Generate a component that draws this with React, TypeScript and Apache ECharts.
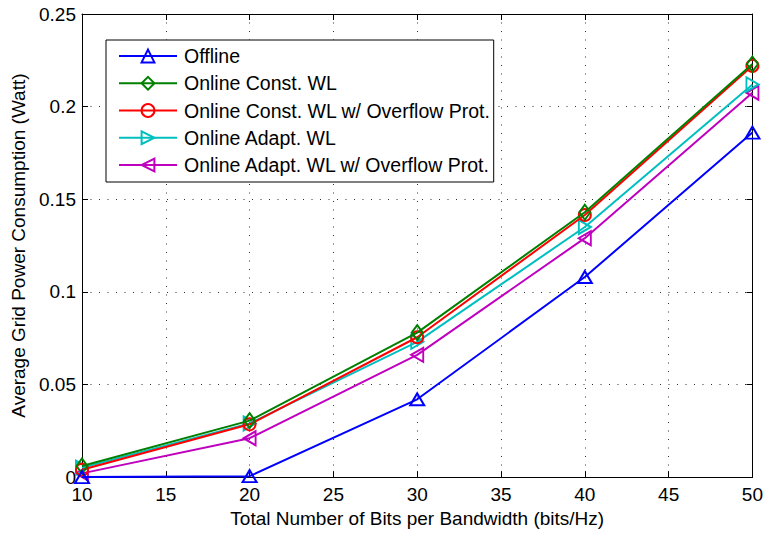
import React, { useEffect, useRef } from "react";
import * as echarts from "echarts";

const bitsPerBandwidth = [10, 20, 30, 40, 50];
const offline = [0, 0.0005, 0.042, 0.108, 0.186];
const onlineConstWL = [0.006, 0.0305, 0.078, 0.143, 0.223];
const onlineConstWLOverflow = [0.004, 0.0285, 0.0755, 0.1415, 0.222];
const onlineAdaptWL = [0.005, 0.029, 0.073, 0.135, 0.212];
const onlineAdaptWLOverflow = [0.002, 0.021, 0.066, 0.129, 0.2075];

const seriesNames = [
  "Offline",
  "Online Const. WL",
  "Online Const. WL w/ Overflow Prot.",
  "Online Adapt. WL",
  "Online Adapt. WL w/ Overflow Prot.",
];

const FONT = "Liberation Sans, Arial, Helvetica, sans-serif";

export default function App() {
  const ref = useRef<HTMLDivElement>(null);

  useEffect(() => {
    if (!ref.current) return;
    const chart = echarts.init(ref.current, undefined, { renderer: "svg" });

    const values = [offline, onlineConstWL, onlineConstWLOverflow, onlineAdaptWL, onlineAdaptWLOverflow];
    const colors = ["#0000ff", "#008000", "#ff0000", "#00bfbf", "#bf00bf"];
    const symbols = [
      "path://M5,0L10,9L0,9Z",
      "path://M5,0L10,8L5,16L0,8Z",
      "circle",
      "path://M0,0L9,5L0,10Z",
      "path://M9,0L0,5L9,10Z",
    ];
    const sizes: any[] = [[14, 12], [11, 15], 12, [12, 14], [12, 14]];

    const series = values.map((vals, i) => ({
      name: seriesNames[i],
      type: "line",
      data: bitsPerBandwidth.map((x, j) => [x, vals[j]]),
      symbol: symbols[i],
      symbolSize: sizes[i],
      showAllSymbol: true,
      lineStyle: { color: colors[i], width: 2 },
      itemStyle: { color: "transparent", borderColor: colors[i], borderWidth: 2 },
      z: 10 - i,
    }));

    const gridLine = { show: true, lineStyle: { color: "#333", type: [1, 7.5], width: 1 } };
    const FS = 19;

    chart.setOption({
      animation: false,
      textStyle: { fontFamily: FONT },
      grid: { left: 82, top: 14, right: 13, bottom: 54, containLabel: false },
      legend: {
        orient: "vertical",
        left: 106,
        top: 40,
        padding: [6, 3, 7, 12],
        itemGap: 7.25,
        itemWidth: 58,
        itemHeight: 16,
        backgroundColor: "#fff",
        borderColor: "#000",
        borderWidth: 1,
        textStyle: { fontSize: 19.5, color: "#000", fontFamily: FONT, lineHeight: 20, padding: [0, 0, 0, 2] },
        data: seriesNames,
      },
      xAxis: [
        {
          type: "value",
          min: 10,
          max: 50,
          interval: 5,
          name: "Total Number of Bits per Bandwidth (bits/Hz)",
          nameLocation: "middle",
          nameGap: 31,
          nameTextStyle: { fontSize: FS, color: "#000", fontFamily: FONT },
          axisLine: { show: true, onZero: false, lineStyle: { color: "#000", width: 1 } },
          axisTick: { show: true, inside: true, length: 6, lineStyle: { color: "#000" } },
          axisLabel: { fontSize: FS, color: "#000", margin: 8, fontFamily: FONT },
          splitLine: gridLine,
        },
        {
          type: "value",
          position: "top",
          min: 10,
          max: 50,
          interval: 5,
          axisLine: { show: true, onZero: false, lineStyle: { color: "#000", width: 1 } },
          axisTick: { show: true, inside: true, length: 6, lineStyle: { color: "#000" } },
          axisLabel: { show: false },
          splitLine: { show: false },
        },
      ],
      yAxis: [
        {
          type: "value",
          min: 0,
          max: 0.25,
          interval: 0.05,
          name: "Average Grid Power Consumption (Watt)",
          nameLocation: "middle",
          nameGap: 50,
          nameTextStyle: { fontSize: FS, color: "#000", fontFamily: FONT },
          axisLine: { show: true, onZero: false, lineStyle: { color: "#000", width: 1 } },
          axisTick: { show: true, inside: true, length: 6, lineStyle: { color: "#000" } },
          axisLabel: { fontSize: FS, color: "#000", margin: 6, fontFamily: FONT },
          splitLine: gridLine,
        },
        {
          type: "value",
          position: "right",
          min: 0,
          max: 0.25,
          interval: 0.05,
          axisLine: { show: true, onZero: false, lineStyle: { color: "#000", width: 1 } },
          axisTick: { show: true, inside: true, length: 6, lineStyle: { color: "#000" } },
          axisLabel: { show: false },
          splitLine: { show: false },
        },
      ],
      series,
    });

    return () => chart.dispose();
  }, []);

  return (
    <div
      ref={ref}
      style={{ width: 766, height: 533, position: "absolute", left: 0, top: 0, background: "#fff" }}
    />
  );
}
